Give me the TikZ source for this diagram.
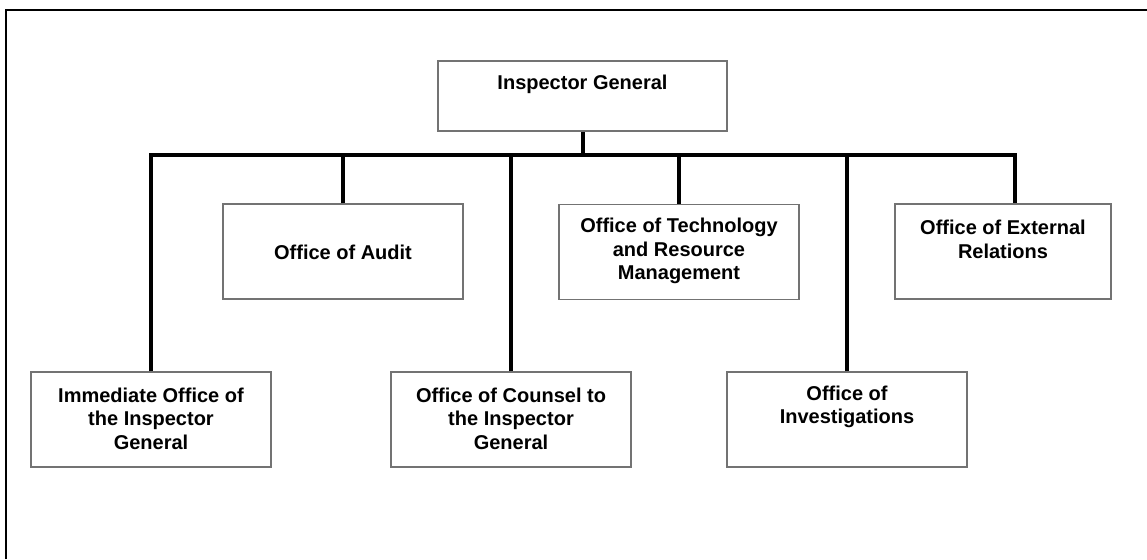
\documentclass[tikz,border=0pt]{standalone}
\usepackage{fontspec}
\setmainfont{Liberation Sans}
\begin{document}
\begin{tikzpicture}[x=1pt,y=-1pt,
  unitbox/.style={draw=black!55, line width=1.5pt, fill=white, inner sep=0pt,
    minimum width=240pt, minimum height=95pt},
  unitname/.style={align=center, inner sep=0pt,
    font=\fontsize{20}{23.5}\selectfont\bfseries},
  link/.style={line width=4pt, black},
  frame/.style={line width=2pt, black}]
\useasboundingbox[fill=white] (0,0) rectangle (1147,559);

% page frame: top and left rules only
\coordinate (fbl) at (5.5,559);
\coordinate (ftl) at (5.5,10.5);
\coordinate (ftr) at (1147,10.5);
\draw[frame] (fbl) -- (ftl) -- (ftr);

% head of the office
\node[unitbox, minimum width=289pt, minimum height=70pt] (ig) at (582.5,96) {};
\node[unitname] (igt) at (582.5,84) {Inspector General};

% upper row
\node[unitbox] (aud) at (343,251.5) {};
\node[unitname] (audt) at (343,252) {Office of Audit};
\node[unitbox] (tech) at (679,252) {};
\node[unitname] (techt) at (679,251) {Office of Technology\\and Resource\\Management};
\node[unitbox, minimum width=216pt] (ext) at (1003,251.5) {};
\node[unitname] (extt) at (1003,239.5) {Office of External\\Relations};

% lower row
\node[unitbox] (imm) at (151,419.5) {};
\node[unitname] (immt) at (151,418.5) {Immediate Office of\\the Inspector\\General};
\node[unitbox] (cou) at (511,419.5) {};
\node[unitname] (cout) at (511,418.5) {Office of Counsel to\\the Inspector\\General};
\node[unitbox] (inv) at (847,419.5) {};
\node[unitname] (invt) at (847,407) {Office of\\Investigations};

% reporting lines
\coordinate (busl) at (151,155);
\coordinate (busr) at (1015,155);
\draw[link] (imm.north) -- (imm.north |- busl) -- (busr) -- (busr |- ext.north);
\draw[link] (ig.south) -- (ig.south |- busl);
\draw[link] (aud.north) -- (aud.north |- busl);
\draw[link] (cou.north) -- (cou.north |- busl);
\draw[link] (tech.north) -- (tech.north |- busl);
\draw[link] (inv.north) -- (inv.north |- busl);
\end{tikzpicture}
\end{document}
